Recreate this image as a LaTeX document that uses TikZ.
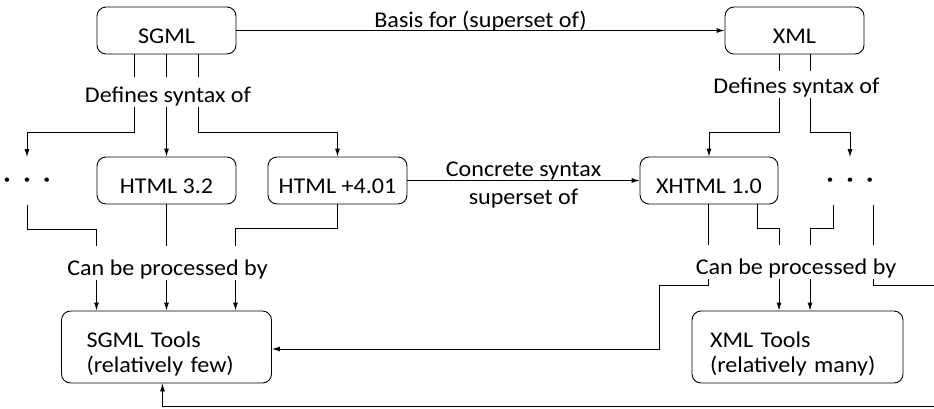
\documentclass[tikz,border=0pt]{standalone}
\usepackage{fontspec}
\setmainfont[FakeStretch=1.07]{Carlito}
\usetikzlibrary{positioning, arrows.meta}

\begin{document}
\begin{tikzpicture}[
    x=1pt, y=-1pt,
    font=\fontsize{22.5pt}{25pt}\selectfont,
    line width=0.9pt,
    % Stili per i riquadri
    box/.style = {
        draw, 
        rounded corners=9pt, 
        minimum width=139pt, 
        minimum height=47pt, 
        inner sep=2pt,
        text height=25pt,
        text depth=0pt
    },
    toolbox/.style = {
        draw, 
        rounded corners=9pt, 
        minimum height=72pt, 
        align=left,
        text height=14pt,
        text depth=14pt
    },
    dots/.style = {
        minimum height=47pt, 
        inner sep=0,
        font=\fontsize{12pt}{12pt}\selectfont
    },
    % Stili per le etichette
    lbl/.style = {
        inner sep=2pt, 
        text height=#1, 
        text depth=3pt
    },
    elbl/.style = {
        inner sep=2pt, 
        text depth=0pt
    },
    arr/.style = {-{Latex[length=8pt, width=5pt]}}
]

\useasboundingbox (0,0) rectangle (934,408);

% 1. Riquadri
\node[box] (sgml) at (166.5, 30.5) {SGML};
\node[box] (xml) at (794.5, 30.5) {XML};
\node[box] (html32) at (166.5, 180.5) {HTML 3.2};
\node[box] (html401) at (337.5, 180.5) {HTML +4.01};
\node[box, minimum width=138pt] (xhtml) at (709, 180.5) {XHTML 1.0};
\node[dots] (dotsl) at (27, 181) {•\hspace{13.5pt}•\hspace{13.5pt}•};
\node[dots] (dotsr) at (850, 181) {•\hspace{13.5pt}•\hspace{13.5pt}•};
\node[toolbox, text width=160pt, inner xsep=25pt] (sgmltools) at (166.5, 347) {SGML Tools\\(relatively few)};
\node[toolbox, text width=175pt, inner xsep=18pt] (xmltools) at (797.5, 347) {XML Tools\\(relatively many)};

% 2. Etichette
\node[lbl=23pt] (defsgml) at (168, 92) {Defines syntax of};
\node[lbl=20pt] (defxml) at (796.5, 84.5) {Defines syntax of};
\node[lbl=27pt] (procl) at (167.5, 263) {Can be processed by};
\node[lbl=27pt] (procr) at (796, 262) {Can be processed by};

% 3. Frecce orizzontali
\draw[arr] (sgml) -- node[elbl, above=1pt] (basis) {Basis for (superset of)} (xml);
\draw[arr] (html401) -- node[elbl, above=2pt] (concrete) {Concrete syntax}
    node[elbl, below=9pt, text height=13pt] (superset) {superset of} (xhtml);

% 4. SGML -> Defines syntax of -> HTML
\foreach \dx in {-32,0,32}
    \draw ([xshift=\dx pt]sgml.south) -- ([xshift=\dx pt]sgml.south |- defsgml.north);
\draw[arr] ([xshift=-32pt]sgml.south |- defsgml.south) -- ++(0,25) -| (dotsl.north);
\draw[arr] (sgml.south |- defsgml.south) -- (html32.north);
\draw[arr] ([xshift=32pt]sgml.south |- defsgml.south) -- ++(0,25) -| (html401.north);

% 5. XML -> Defines syntax of -> XHTML
\foreach \dx in {-15,16}
    \draw ([xshift=\dx pt]xml.south) -- ([xshift=\dx pt]xml.south |- defxml.north);
\draw[arr] ([xshift=-15pt]xml.south |- defxml.south) -- ++(0,34) -| (xhtml.north);
\draw[arr] ([xshift=16pt]xml.south |- defxml.south) -- ++(0,34) -| (dotsr.north);

% 6. Can be processed by (sinistra)
\draw (dotsl.south) -- ++(0,24) -| ([xshift=-70pt]sgmltools.north |- procl.north);
\draw (html32.south) -- (html32.south |- procl.north);
\draw (html401.south) -- ++(0,24) -| ([xshift=69pt]sgmltools.north |- procl.north);
\foreach \dx in {-70,0,69}
    \draw[arr] ([xshift=\dx pt]sgmltools.north |- procl.south) -- ([xshift=\dx pt]sgmltools.north);

% 7. Can be processed by (destra)
\draw ([xshift=-1pt]xhtml.south) -- ([xshift=-1pt]xhtml.south |- procr.north);
\draw ([xshift=48pt]xhtml.south) -- ++(0,24) -| ([xshift=-18.5pt]xmltools.north |- procr.north);
\draw ([xshift=-17pt]dotsr.south) -- ++(0,23) -| ([xshift=12.5pt]xmltools.north |- procr.north);
\draw ([xshift=23pt]dotsr.south) -- ([xshift=23pt]dotsr.south |- procr.north);
\foreach \dx in {-18.5,12.5}
    \draw[arr] ([xshift=\dx pt]xmltools.north |- procr.south) -- ([xshift=\dx pt]xmltools.north);

% 8. Ritorno verso SGML Tools
\coordinate (bendl) at (659, 349);
\coordinate (outr) at (934, 285);
\coordinate (outb) at (934, 406.5);
\draw[arr] ([xshift=-1pt]xhtml.south |- procr.south) -- ++(0,6) -| (bendl) -- (bendl -| sgmltools.east);
\draw ([xshift=23pt]dotsr.south |- procr.south) |- (outr);
\draw[arr] (outb) -| ([xshift=-4pt]sgmltools.south);

\end{tikzpicture}
\end{document}
